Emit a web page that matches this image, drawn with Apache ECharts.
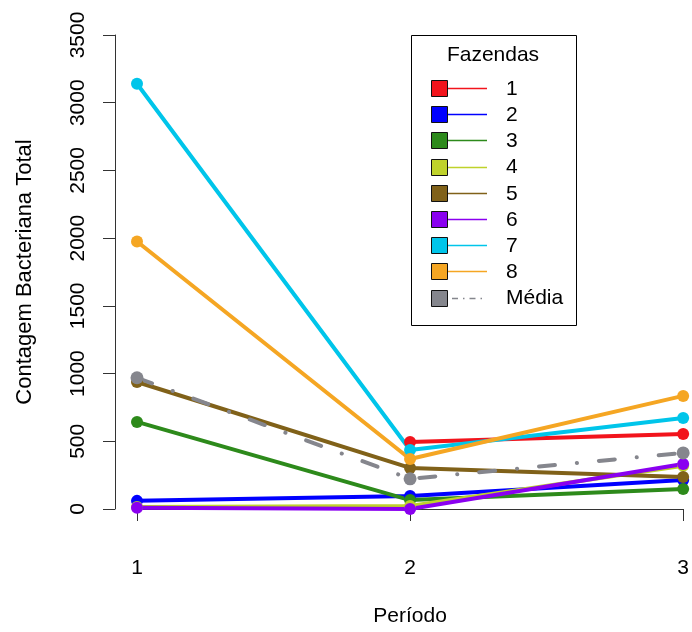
<!DOCTYPE html>
<html>
<head>
<meta charset="utf-8">
<script src="https://cdn.jsdelivr.net/npm/echarts@6/dist/echarts.min.js"></script>
<style>
html,body{margin:0;padding:0;background:#fff;}
#chart{width:692px;height:632px;}
</style>
</head>
<body>
<div id="chart"></div>
<script>
// ---- data ----
const periods = ['1', '2', '3'];
const yTicks = [0, 500, 1000, 1500, 2000, 2500, 3000, 3500];
const farmNames = ['1', '2', '3', '4', '5', '6', '7', '8'];
const farm1 = [null, 495, 554];
const farm2 = [60, 96, 214];
const farm3 = [643, 66, 148];
const farm4 = [15, 22, 320];
const farm5 = [938, 303, 236];
const farm6 = [10, 0, 332];
const farm7 = [3140, 436, 672];
const farm8 = [1975, 369, 835];
const meanName = 'Média';
const meanValues = [969, 223, 414];
const farmColors = ['#F2141C', '#0000FF', '#2D8A1B', '#BFD22B', '#806119', '#8A00F0', '#00C5EA', '#F5A623'];
const meanColor = '#85868D';

const farmData = [farm1, farm2, farm3, farm4, farm5, farm6, farm7, farm8];
const FONT = 'Liberation Sans, Arial, Helvetica, sans-serif';

const series = farmData.map((d, i) => ({
  name: farmNames[i],
  type: 'line',
  data: d,
  symbol: 'circle',
  symbolSize: 12,
  showSymbol: true,
  connectNulls: false,
  silent: true,
  animation: false,
  lineStyle: { color: farmColors[i], width: 4 },
  itemStyle: { color: farmColors[i] }
}));
series.push({
  name: meanName,
  type: 'line',
  data: meanValues,
  symbol: 'circle',
  symbolSize: 13,
  silent: true,
  animation: false,
  lineStyle: { color: meanColor, width: 4, type: [16, 22, 0.1, 22], cap: 'round' },
  itemStyle: { color: meanColor }
});

// legend drawn as graphic elements built from names/colors
const legendNames = farmNames.concat([meanName]);
const legendColors = farmColors.concat([meanColor]);
const gx = 411, gy = 35, gw = 165, gh = 290;
const graphics = [
  { type: 'rect', shape: { x: gx + 0.5, y: gy + 0.5, width: gw, height: gh }, style: { fill: '#fff', stroke: '#000', lineWidth: 1 }, z: 100 },
  { type: 'text', x: 493, y: 55, style: { text: 'Fazendas', font: '21px ' + FONT, fill: '#000', textAlign: 'center', textVerticalAlign: 'middle' }, z: 101 }
];
legendNames.forEach((n, i) => {
  const cy = 88 + i * 26.2;
  const isMean = i === legendNames.length - 1;
  graphics.push({
    type: 'line',
    shape: { x1: isMean ? 452 : 447, y1: Math.round(cy) + 0.5, x2: 487, y2: Math.round(cy) + 0.5 },
    style: { stroke: legendColors[i], lineWidth: 1.3, lineDash: isMean ? [6, 5, 1.5, 5] : null },
    z: 101
  });
  graphics.push({
    type: 'rect',
    shape: { x: 431.5, y: Math.round(cy) - 7.5, width: 16, height: 16 },
    style: { fill: legendColors[i], stroke: '#111', lineWidth: 1 },
    z: 102
  });
  graphics.push({
    type: 'text', x: 506, y: cy + 1,
    style: { text: n, font: '21px ' + FONT, fill: '#000', textAlign: 'left', textVerticalAlign: 'middle' },
    z: 102
  });
});

const chart = echarts.init(document.getElementById('chart'), null, { renderer: 'canvas' });
chart.setOption({
  backgroundColor: '#fff',
  animation: false,
  textStyle: { fontFamily: FONT },
  grid: { left: 137, right: 7, top: 35, bottom: 123, containLabel: false },
  xAxis: {
    type: 'category',
    data: periods,
    boundaryGap: false,
    offset: 21,
    name: 'Período',
    nameLocation: 'middle',
    nameGap: 76,
    nameTextStyle: { fontSize: 21, color: '#000', fontFamily: FONT },
    axisLine: { show: true, lineStyle: { color: '#333', width: 1 } },
    axisTick: { show: true, length: 12, inside: false, lineStyle: { color: '#333' } },
    axisLabel: { margin: 28, fontSize: 21, color: '#000', fontFamily: FONT },
    splitLine: { show: false }
  },
  yAxis: {
    type: 'value',
    min: yTicks[0],
    max: yTicks[yTicks.length - 1],
    interval: yTicks[1] - yTicks[0],
    offset: 22,
    name: 'Contagem Bacteriana Total',
    nameLocation: 'middle',
    nameRotate: 90,
    nameGap: 79,
    nameTextStyle: { fontSize: 22, color: '#000', fontFamily: FONT },
    axisLine: { show: true, lineStyle: { color: '#333', width: 1 } },
    axisTick: { show: true, length: 12, inside: false, lineStyle: { color: '#333' } },
    axisLabel: { margin: 26, rotate: 90, fontSize: 21, color: '#000', fontFamily: FONT, formatter: v => String(v) },
    splitLine: { show: false }
  },
  series: series,
  graphic: graphics
});
</script>
</body>
</html>
